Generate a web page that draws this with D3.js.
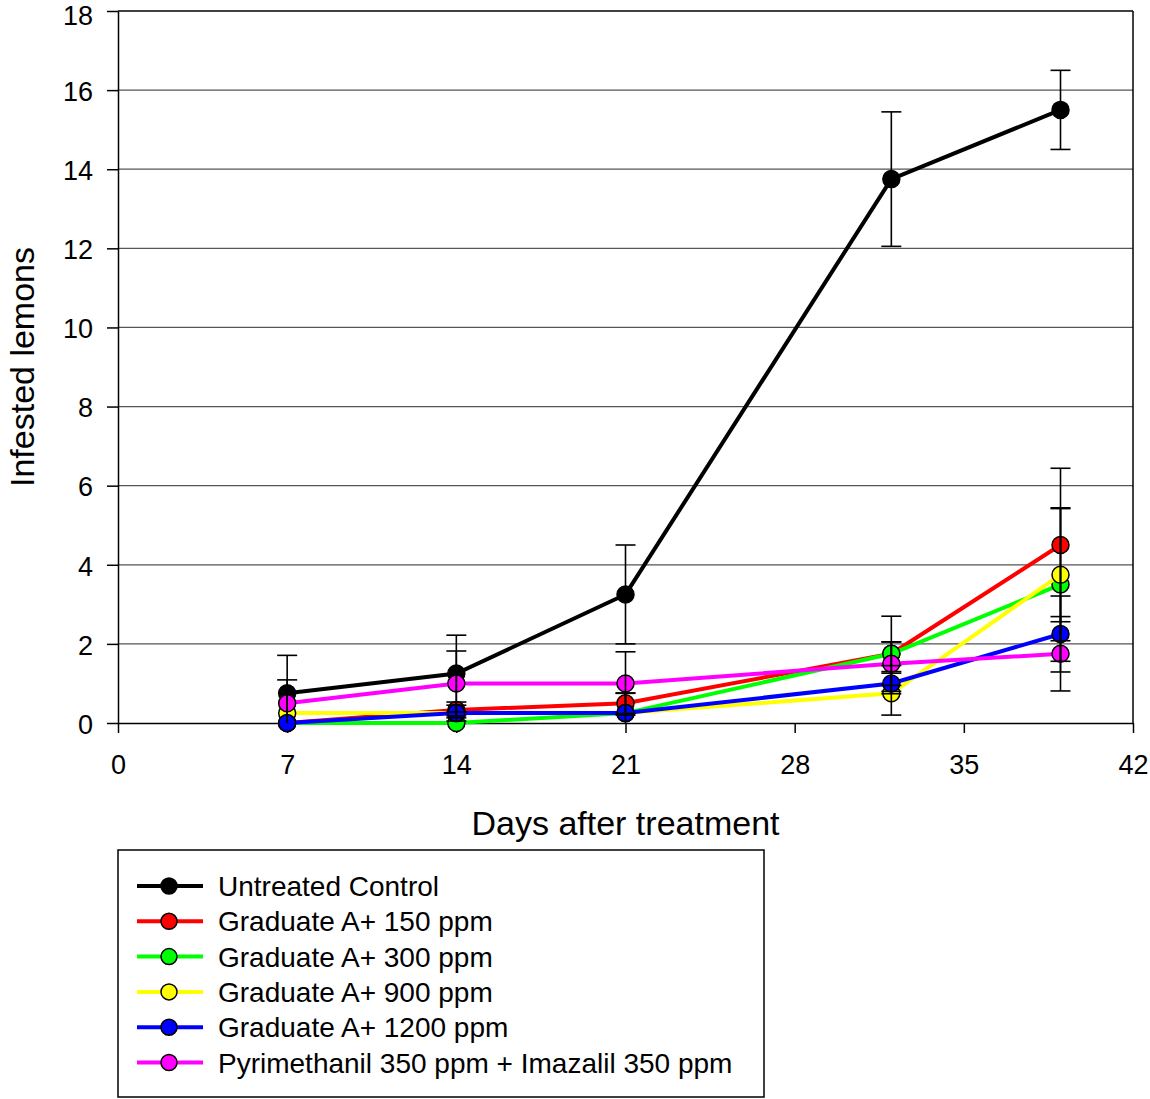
<!DOCTYPE html>
<html lang="en">
<head>
<meta charset="UTF-8">
<script src="https://d3js.org/d3.v7.min.js"></script>
<style>
    body { margin: 0; background: #fff; }
    svg { font-family: "Liberation Sans", Arial, sans-serif; }
    .grid line { stroke: #555; stroke-width: 1.2px; }
    .axis path, .axis line { stroke: #000; stroke-width: 1.5px; }
    .axis text { font-size: 27px; fill: #000; }
</style>
</head>
<body>
<div class="chart"></div>
<script>
    const days = [7, 14, 21, 32, 39]
    const seriesNames = ['Untreated Control', 'Graduate A+ 150 ppm', 'Graduate A+ 300 ppm',
        'Graduate A+ 900 ppm', 'Graduate A+ 1200 ppm', 'Pyrimethanil 350 ppm + Imazalil 350 ppm']
    const seriesColors = ['#000000', '#ff0000', '#00ff00', '#ffff00', '#0000ff', '#ff00ff']

    const control = [0.75, 1.25, 3.25, 13.75, 15.5]
    const grad150 = [0, 0.33, 0.5, 1.75, 4.5]
    const grad300 = [0, 0, 0.25, 1.75, 3.5]
    const grad900 = [0.25, 0.25, 0.25, 0.75, 3.75]
    const grad1200 = [0, 0.25, 0.25, 1.0, 2.25]
    const pyrImaz = [0.5, 1.0, 1.0, 1.5, 1.75]

    const controlErr = [0.96, 0.97, 1.25, 1.7, 1.0]
    const grad150Err = [0, 0.2, 0.26, 0.3, 1.94]
    const grad300Err = [0, 0, 0.5, 0.95, 1.94]
    const grad900Err = [0, 0, 0, 0.55, 1.67]
    const grad1200Err = [0, 0.2, 0, 0.26, 0.96]
    const pyrImazErr = [0.59, 0.82, 0.8, 0.55, 0.94]

    const xTicks = [0, 7, 14, 21, 28, 35, 42]
    const yTicks = [0, 2, 4, 6, 8, 10, 12, 14, 16, 18]

    const values = [control, grad150, grad300, grad900, grad1200, pyrImaz]
    const errors = [controlErr, grad150Err, grad300Err, grad900Err, grad1200Err, pyrImazErr]
    const series = seriesNames.map((name, i) => ({
        name: name,
        color: seriesColors[i],
        points: days.map((d, j) => ({ day: d, value: values[i][j], err: errors[i][j] }))
    }))

    const width = 1150, height = 1099
    const plotL = 118, plotR = 1133, plotT = 11, plotB = 723

    const svg = d3.select('.chart').append('svg')
        .attr('width', width)
        .attr('height', height)

    const x = d3.scaleLinear().domain([0, 42]).range([plotL, plotR])
    const y = d3.scaleLinear().domain([0, 18]).range([plotB, plotT])

    // gridlines
    svg.append('g').attr('class', 'grid')
        .selectAll('line')
        .data(yTicks.filter(t => t > 0 && t < 18))
        .enter().append('line')
        .attr('x1', plotL).attr('x2', plotR)
        .attr('y1', d => y(d)).attr('y2', d => y(d))

    // frame top and right
    svg.append('line').attr('x1', plotL).attr('x2', plotR).attr('y1', plotT).attr('y2', plotT)
        .attr('stroke', '#000').attr('stroke-width', 1.5)
    svg.append('line').attr('x1', plotR).attr('x2', plotR).attr('y1', plotT).attr('y2', plotB)
        .attr('stroke', '#000').attr('stroke-width', 1.5)

    svg.append('g').attr('class', 'axis')
        .attr('transform', `translate(0,${plotB})`)
        .call(d3.axisBottom(x).tickValues(xTicks).tickSize(10).tickSizeOuter(0).tickPadding(22))
    const yAxis = svg.append('g').attr('class', 'axis')
        .attr('transform', `translate(${plotL},0)`)
        .call(d3.axisLeft(y).tickValues(yTicks).tickSize(11).tickSizeOuter(0).tickPadding(14))
    // top label nudged down a touch so it stays inside the page
    yAxis.selectAll('text').attr('dy', d => d === 18 ? '0.5em' : '0.38em')

    // axis titles
    svg.append('text')
        .attr('x', (plotL + plotR) / 2)
        .attr('y', 835)
        .attr('text-anchor', 'middle')
        .style('font-size', '34px')
        .text('Days after treatment')
    svg.append('text')
        .attr('transform', `translate(34,${(plotT + plotB) / 2}) rotate(-90)`)
        .attr('text-anchor', 'middle')
        .style('font-size', '34px')
        .text('Infested lemons')

    const line = d3.line().x(d => x(d.day)).y(d => y(d.value))

    series.forEach(s => {
        const g = svg.append('g')
        g.append('path')
            .datum(s.points)
            .attr('d', line)
            .attr('fill', 'none')
            .attr('stroke', s.color)
            .attr('stroke-width', 4)
        g.selectAll('circle')
            .data(s.points)
            .enter().append('circle')
            .attr('cx', d => x(d.day))
            .attr('cy', d => y(d.value))
            .attr('r', 8.5)
            .attr('fill', s.color)
            .attr('stroke', '#000')
            .attr('stroke-width', 1.5)
    })

    // error bars on top
    const capW = 10
    series.forEach(s => {
        const eg = svg.append('g').attr('stroke', '#000').attr('stroke-width', 1.6)
        s.points.filter(d => d.err > 0).forEach(d => {
            const lo = Math.max(0, d.value - d.err), hi = d.value + d.err
            eg.append('line').attr('x1', x(d.day)).attr('x2', x(d.day))
                .attr('y1', y(lo)).attr('y2', y(hi))
            eg.append('line').attr('x1', x(d.day) - capW).attr('x2', x(d.day) + capW)
                .attr('y1', y(hi)).attr('y2', y(hi))
            if (d.value - d.err >= 0) {
                eg.append('line').attr('x1', x(d.day) - capW).attr('x2', x(d.day) + capW)
                    .attr('y1', y(lo)).attr('y2', y(lo))
            }
        })
    })

    // legend
    const legend = svg.append('g')
    legend.append('rect')
        .attr('x', 118).attr('y', 850)
        .attr('width', 646).attr('height', 247)
        .attr('fill', 'none').attr('stroke', '#000').attr('stroke-width', 1.5)
    series.forEach((s, i) => {
        const ly = 886 + i * 35.3
        legend.append('line')
            .attr('x1', 137).attr('x2', 203).attr('y1', ly).attr('y2', ly)
            .attr('stroke', s.color).attr('stroke-width', 4)
        legend.append('circle')
            .attr('cx', 169).attr('cy', ly).attr('r', 8)
            .attr('fill', s.color).attr('stroke', '#000').attr('stroke-width', 1.5)
        legend.append('text')
            .attr('x', 218).attr('y', ly)
            .attr('dy', '0.36em')
            .style('font-size', '28px')
            .text(s.name)
    })
</script>
</body>
</html>
